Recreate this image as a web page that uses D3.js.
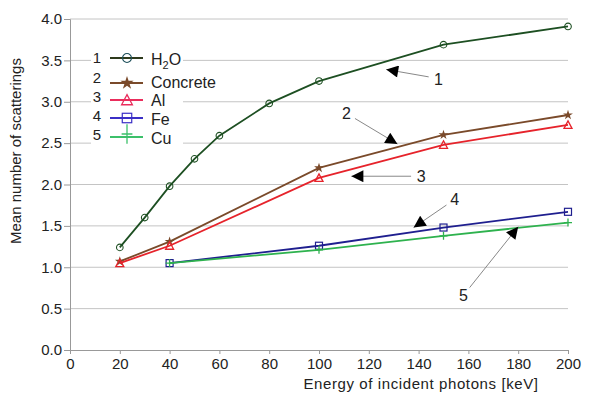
<!DOCTYPE html>
<html>
<head>
<meta charset="utf-8">
<script src="https://cdn.jsdelivr.net/npm/d3@7"></script>
<style>
  body { margin: 0; background: #fff; }
  text { font-family: "Liberation Sans", Arial, sans-serif; }
</style>
</head>
<body>
<div id="chart"></div>
<script>
// values
var names = ["H2O", "Concrete", "Al", "Fe", "Cu"];
var colors = ["#1d4f22", "#7a4a2a", "#e6232b", "#1f1f8f", "#2eb24e"];
var legendColors = ["#2e3a1c", "#7a4a2a", "#ea2d5c", "#3b2fc6", "#3cc06a"];
var h2oX = [20, 30, 40, 50, 60, 80, 100, 150, 200];
var h2oY = [1.24, 1.60, 1.98, 2.31, 2.59, 2.98, 3.25, 3.69, 3.91];
var concreteX = [20, 40, 100, 150, 200];
var concreteY = [1.07, 1.31, 2.20, 2.60, 2.84];
var alX = [20, 40, 100, 150, 200];
var alY = [1.05, 1.26, 2.08, 2.48, 2.72];
var feX = [40, 100, 150, 200];
var feY = [1.05, 1.26, 1.48, 1.67];
var cuX = [40, 100, 150, 200];
var cuY = [1.05, 1.21, 1.38, 1.54];
var xTicks = [0, 20, 40, 60, 80, 100, 120, 140, 160, 180, 200];
var yTicks = [0, 0.5, 1, 1.5, 2, 2.5, 3, 3.5, 4];
// callouts: label, label pos [keV, value], arrow tip [keV, value]
var callouts = [
  {label: "1", at: [148, 3.28], tip: [127, 3.39]},
  {label: "2", at: [111, 2.86], tip: [131.5, 2.49]},
  {label: "3", at: [141, 2.1], tip: [113, 2.1]},
  {label: "4", at: [154.5, 1.82], tip: [138, 1.48]},
  {label: "5", at: [158, 0.66], tip: [180, 1.49]}
];

var width = 590, height = 396;
var margin = {top: 19, right: 22, bottom: 46, left: 70};

var series = [
  {x: h2oX, y: h2oY}, {x: concreteX, y: concreteY}, {x: alX, y: alY},
  {x: feX, y: feY}, {x: cuX, y: cuY}
];

var xScale = d3.scaleLinear().domain([0, 200]).range([margin.left, width - margin.right]);
var yScale = d3.scaleLinear().domain([0, 4]).range([height - margin.bottom, margin.top]);

var svg = d3.select("#chart").append("svg")
    .attr("width", width)
    .attr("height", height);

svg.append("defs").append("marker")
    .attr("id", "head")
    .attr("viewBox", "0 0 10 10")
    .attr("refX", 10).attr("refY", 5)
    .attr("markerWidth", 15).attr("markerHeight", 12)
    .attr("markerUnits", "userSpaceOnUse")
    .attr("orient", "auto")
  .append("path")
    .attr("d", "M0,0L10,5L0,10Z")
    .attr("fill", "#000");

// gridlines
svg.append("g").selectAll("line")
  .data(yTicks.filter(d => d > 0))
  .enter().append("line")
    .attr("x1", margin.left).attr("x2", width - margin.right)
    .attr("y1", d => yScale(d)).attr("y2", d => yScale(d))
    .attr("stroke", "#c4c4c4").attr("stroke-width", 1);

// y axis
svg.append("g")
    .attr("transform", `translate(${margin.left},0)`)
    .call(d3.axisLeft(yScale).tickValues(yTicks).tickFormat(d3.format(".1f")).tickSize(6).tickPadding(2))
    .call(g => g.select(".domain").attr("stroke", "#999"))
    .call(g => g.selectAll(".tick line").attr("stroke", "#999"))
    .call(g => g.selectAll("text").attr("font-size", 15).attr("fill", "#222"));

// x axis
svg.append("g")
    .attr("transform", `translate(0,${yScale(0)})`)
    .call(d3.axisBottom(xScale).tickValues(xTicks).tickSize(4).tickPadding(4))
    .call(g => g.select(".domain").attr("stroke", "#999"))
    .call(g => g.selectAll(".tick line").attr("stroke", "#999"))
    .call(g => g.selectAll("text").attr("font-size", 15).attr("fill", "#222"));

svg.append("text")
    .attr("x", 421).attr("y", 389)
    .attr("text-anchor", "middle")
    .attr("font-size", 15).attr("fill", "#222")
    .attr("letter-spacing", 0.6)
    .text("Energy of incident photons [keV]");

svg.append("text")
    .attr("transform", "translate(21,151) rotate(-90)")
    .attr("text-anchor", "middle")
    .attr("font-size", 15).attr("fill", "#222")
    .text("Mean number of scatterings");

var line = d3.line().x(d => xScale(d[0])).y(d => yScale(d[1]));

function drawMarker(g, k, color, s) {
  if (k === 0) {
    g.append("circle").attr("r", 3.3 * s).attr("fill", "none").attr("stroke", color).attr("stroke-width", 1.1);
  } else if (k === 1) {
    g.append("path").attr("d", d3.symbol(d3.symbolStar, 30 * s * s)())
      .attr("fill", color).attr("stroke", "none");
  } else if (k === 2) {
    g.append("path").attr("d", `M0,${-4 * s}L${4 * s},${3.5 * s}L${-4 * s},${3.5 * s}Z`)
      .attr("fill", "none").attr("stroke", color).attr("stroke-width", 1.3);
  } else if (k === 3) {
    g.append("rect").attr("x", -3.5 * s).attr("y", -3.5 * s).attr("width", 7 * s).attr("height", 7 * s)
      .attr("fill", "none").attr("stroke", color).attr("stroke-width", 1.2);
  } else {
    g.append("path").attr("d", `M${-4 * s},0H${4 * s}M0,${-4 * s * (s > 1 ? 1.8 : 1)}V${4 * s * (s > 1 ? 1.8 : 1)}`)
      .attr("stroke", color).attr("stroke-width", 1.3);
  }
}

// series lines and markers
series.forEach(function(s, k) {
  var pts = s.x.map((x, i) => [x, s.y[i]]);
  svg.append("path")
      .datum(pts)
      .attr("fill", "none")
      .attr("stroke", colors[k])
      .attr("stroke-width", 1.8)
      .attr("d", line);
  pts.forEach(function(p) {
    var g = svg.append("g").attr("transform", `translate(${xScale(p[0])},${yScale(p[1])})`);
    drawMarker(g, k, colors[k], 1);
  });
});

// callouts
callouts.forEach(function(c) {
  var lx = xScale(c.at[0]), ly = yScale(c.at[1]);
  var tx = xScale(c.tip[0]), ty = yScale(c.tip[1]);
  var dx = tx - lx, dy = ty - ly, len = Math.hypot(dx, dy);
  var sx = lx + dx / len * 10, sy = ly + dy / len * 10;
  svg.append("line")
      .attr("x1", sx).attr("y1", sy).attr("x2", tx).attr("y2", ty)
      .attr("stroke", "#888").attr("stroke-width", 1)
      .attr("marker-end", "url(#head)");
  svg.append("text")
      .attr("x", lx).attr("y", ly + 6)
      .attr("text-anchor", "middle")
      .attr("font-size", 16).attr("fill", "#222")
      .text(c.label);
});

// legend
var legend = svg.append("g");
legend.append("rect")
    .attr("x", 91).attr("y", 44).attr("width", 92).attr("height", 104)
    .attr("fill", "#fff");
var numY = [58, 78, 97, 116, 135];
var lineY = [58, 83, 100, 118, 137];
var textY = [65, 88, 106, 125, 144];
names.forEach(function(n, k) {
  legend.append("text").attr("x", 97).attr("y", numY[k] + 5).attr("text-anchor", "middle")
      .attr("font-size", 15).attr("fill", "#222").text(k + 1);
  legend.append("line").attr("x1", 110).attr("x2", 143).attr("y1", lineY[k]).attr("y2", lineY[k])
      .attr("stroke", legendColors[k]).attr("stroke-width", 2);
  drawMarker(legend.append("g").attr("transform", `translate(127,${lineY[k] - (k === 4 ? 3 : 0)})`),
      k, k === 0 ? "#1d4f5a" : legendColors[k], 1.35);
  var t = legend.append("text").attr("x", 151).attr("y", textY[k])
      .attr("font-size", 16).attr("fill", "#222");
  if (n === "H2O") {
    t.append("tspan").text("H");
    t.append("tspan").attr("font-size", 11).attr("dy", 4).text("2");
    t.append("tspan").attr("dy", -4).text("O");
  } else {
    t.text(n);
  }
});
</script>
</body>
</html>
